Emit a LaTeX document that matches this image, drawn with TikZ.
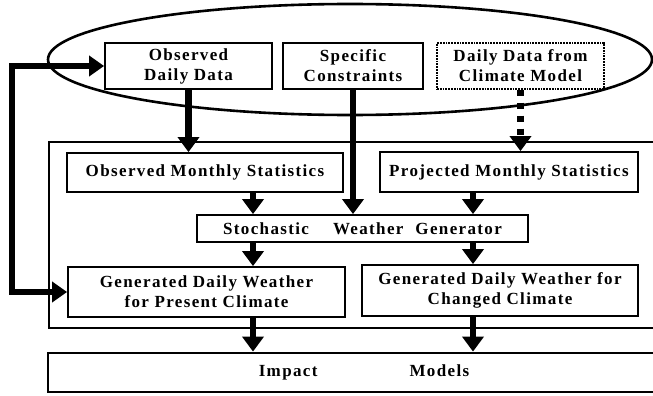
\documentclass[tikz,border=0pt]{standalone}
\usepackage{fontspec}
\setmainfont{Liberation Serif}[LetterSpace=8]
\usetikzlibrary{arrows.meta,positioning,shapes}

\begin{document}
\begin{tikzpicture}[x=1pt,y=-1pt,font=\fontsize{17}{20}\selectfont\bfseries]
	\tikzstyle{rect}=[draw, rectangle, line width=1.8pt, align=center, inner sep=0pt]
	\tikzstyle{rect_d}=[rect, densely dotted, line width=1.4pt]
	\tikzstyle{flow}=[line width=6.5pt, -{Triangle[length=15pt,width=21pt]}]
	\tikzstyle{flow_d}=[flow, dash pattern=on 6pt off 7pt]
	\useasboundingbox (0,0) rectangle (653,396);

	% input data inside the ellipse
	\draw[line width=2.6pt] (350,59.5) ellipse [x radius=302pt, y radius=55.5pt];
	\node[rect, minimum width=167pt, minimum height=46pt] (obsday) at (188.5,66) {Observed\\Daily Data};
	\node[rect, minimum width=140pt, minimum height=46pt] (constr) at (353,66) {Specific\\Constraints};
	\node[rect_d, minimum width=167pt, minimum height=46pt] (gcmday) at (520.5,66) {Daily Data from\\Climate Model};

	% generator frame
	\draw[line width=2.8pt] (49,142) rectangle (668,328);
	\node[rect, minimum width=276pt, minimum height=39pt] (obsmon) at (205,172.5) {Observed Monthly Statistics};
	\node[rect, minimum width=258pt, minimum height=40pt] (projmon) at (509,172) {Projected Monthly Statistics};
	\node[rect, minimum width=331pt, minimum height=27pt] (swg) at (362.5,228.5) {Stochastic\hspace{24pt}Weather\hspace{12pt}Generator};
	\node[rect, minimum width=277pt, minimum height=50pt] (genpres) at (206.5,292) {Generated Daily Weather\\for Present Climate};
	\node[rect, minimum width=276pt, minimum height=51pt] (genchg) at (500,290.5) {Generated Daily Weather for\\Changed Climate};

	\node[rect, line width=2.8pt, minimum width=632pt, minimum height=39pt] (impact) at (364,372.5) {Impact\hspace{92pt}Models};

	\draw[flow] (obsday) -- (obsday |- obsmon.north);
	\draw[flow_d] (gcmday) -- (gcmday |- projmon.north);
	\draw[flow] (constr) -- (constr |- swg.north);

	\draw[flow] (obsmon.south -| 253,0) -- (swg.north -| 253,0);
	\draw[flow] (projmon.south -| 473,0) -- (swg.north -| 473,0);
	\draw[flow] (swg.south -| 253,0) -- (genpres.north -| 253,0);
	\draw[flow] (swg.south -| 473,0) -- (genchg.north -| 473,0);
	\draw[flow] (genpres.south -| 253,0) -- (impact.north -| 253,0);
	\draw[flow] (genchg.south -| 473,0) -- (impact.north -| 473,0);

	% feedback to observed data
	\draw[line width=6pt, {Triangle[length=15pt,width=20pt]}-{Triangle[length=15pt,width=20pt]}]
		(genpres.west) -- ++(-55,0) |- (obsday.west);
\end{tikzpicture}
\end{document}
